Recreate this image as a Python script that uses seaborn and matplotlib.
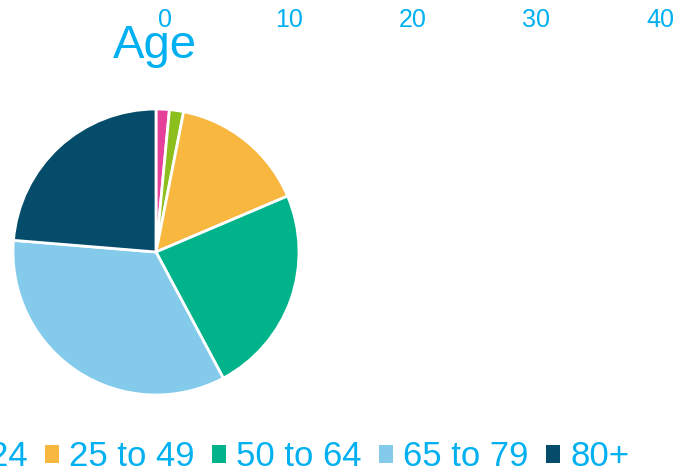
import matplotlib
matplotlib.use('Agg')
import matplotlib.pyplot as plt
import seaborn as sns
from matplotlib.patches import Patch

# Data
age_groups = ['Under 18', '18 to 24', '25 to 49', '50 to 64', '65 to 79', '80+']
shares = [1.5, 1.6, 15.5, 23.6, 34.1, 23.7]
slice_colors = ['#E5409A', '#8CBF1E', '#F8B73F', '#00B38B', '#84CBEB', '#054C6A']
axis_ticks = [0, 10, 20, 30, 40]

text_blue = '#00B0F0'

sns.set_theme(style='white')
plt.rcParams['font.family'] = ['Liberation Sans', 'DejaVu Sans']

fig = plt.figure(figsize=(6.79, 4.68), dpi=100)

# Empty value axis along the top (only tick labels are shown)
ax_top = fig.add_axes([165 / 679, 0.15, 495 / 679, (468 - 38) / 468 - 0.15])
ax_top.set_xlim(0, 40)
ax_top.set_xticks(axis_ticks)
ax_top.xaxis.tick_top()
ax_top.tick_params(axis='x', length=0, pad=4, labelsize=18, labelcolor=text_blue)
ax_top.set_yticks([])
for s in ax_top.spines.values():
    s.set_visible(False)
ax_top.patch.set_alpha(0)

# Pie
ax = fig.add_axes([13 / 679, (468 - 252 - 143) / 468, 286 / 679, 286 / 468])
wedges, _ = ax.pie(shares, colors=slice_colors, startangle=90, counterclock=False,
                   radius=1, wedgeprops=dict(edgecolor='white', linewidth=2))
ax.set_xlim(-1.0, 1.0)
ax.set_ylim(-1.0, 1.0)
ax.set_aspect('equal')
ax.axis('off')

# Title
fig.text(155 / 679, 1 - 46 / 468, 'Age', ha='center', va='center',
         fontsize=34, color=text_blue)

# Legend along the bottom (runs off the left edge like the original)
handles = [Patch(facecolor=c, edgecolor='none') for c in slice_colors]
leg = fig.legend(handles, age_groups, loc='center right',
                 bbox_to_anchor=(647 / 679, 1 - 457 / 468), ncol=6,
                 frameon=False, fontsize=25, borderpad=0,
                 handlelength=0.4, handleheight=0.4, handletextpad=0.3,
                 columnspacing=0.5)
for t in leg.get_texts():
    t.set_color(text_blue)

fig.savefig('out.png', dpi=100)
